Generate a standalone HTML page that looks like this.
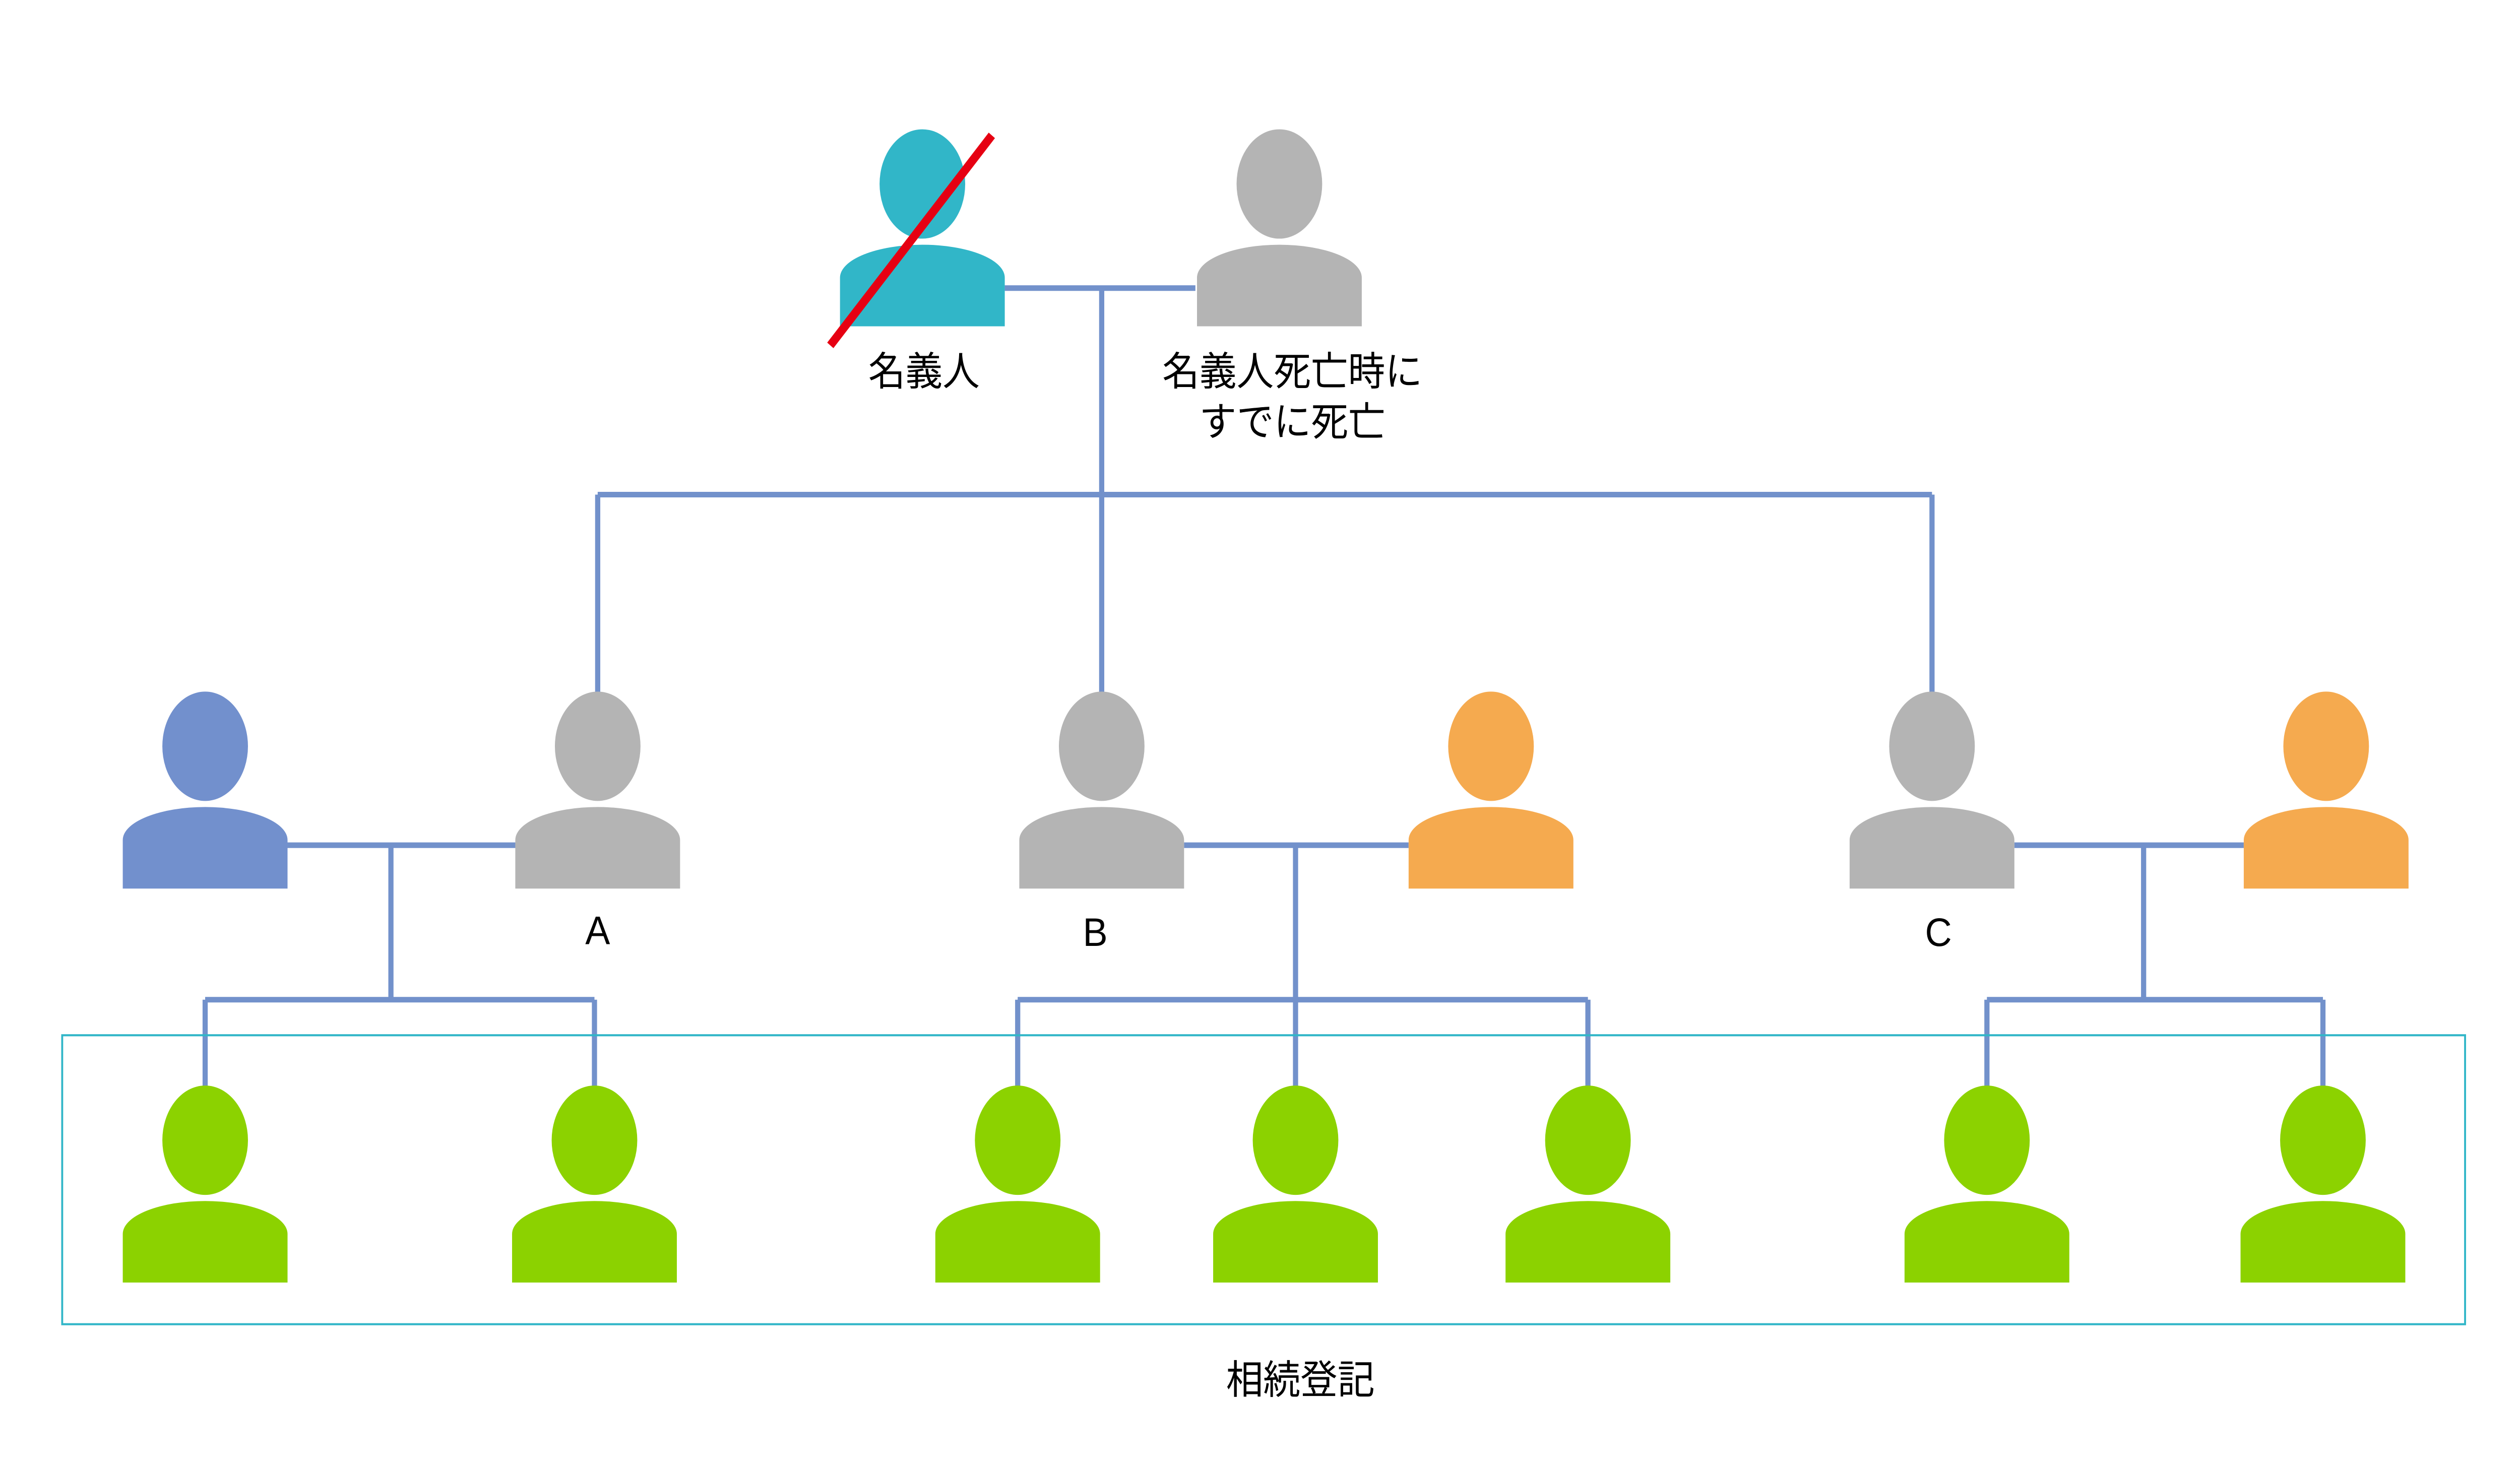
<!DOCTYPE html>
<html><head><meta charset="utf-8"><style>
html,body{margin:0;padding:0;background:#fff;width:100%;height:100%;overflow:hidden;}
svg{display:block;position:fixed;left:0;top:0;width:100vw;height:100vh;}
text{font-family:"Liberation Sans","Noto Sans CJK JP",sans-serif;fill:#000;}
</style></head><body>
<svg viewBox="0 0 1560 847" preserveAspectRatio="none" xmlns="http://www.w3.org/2000/svg">
<defs>
<g id="p"><ellipse cx="0" cy="31" rx="26.5" ry="31.5"/><path d="M-51 113 V85 A51 19 0 0 1 51 85 V113 Z"/></g>
</defs>
<g stroke="#7291cb" stroke-width="3.2" fill="none">
<path d="M622 166 H740 M682 166 V285 M370 285 H1196 M370 285 V402 M1196 285 V402 M682 285 V402"/>
<path d="M178 487 H319 M242 487 V576 M127 576 H368 M127 576 V628 M368 576 V628"/>
<path d="M733 487 H872 M802 487 V628 M630 576 H983 M630 576 V628 M983 576 V628"/>
<path d="M1247 487 H1389 M1327 487 V576 M1230 576 H1438 M1230 576 V628 M1438 576 V628"/>
</g>
<rect x="38.5" y="596.5" width="1487.5" height="166.5" fill="none" stroke="#31b6c8" stroke-width="1.2"/>
<use href="#p" x="571" y="75" fill="#31b6c8"/>
<use href="#p" x="792" y="75" fill="#b4b4b4"/>
<use href="#p" x="127" y="399" fill="#7290cd"/>
<use href="#p" x="370" y="399" fill="#b4b4b4"/>
<use href="#p" x="682" y="399" fill="#b4b4b4"/>
<use href="#p" x="923" y="399" fill="#f5aa4f"/>
<use href="#p" x="1196" y="399" fill="#b4b4b4"/>
<use href="#p" x="1440" y="399" fill="#f5aa4f"/>
<g fill="#8cd200">
<use href="#p" x="127" y="626"/><use href="#p" x="368" y="626"/>
<use href="#p" x="630" y="626"/><use href="#p" x="802" y="626"/><use href="#p" x="983" y="626"/>
<use href="#p" x="1230" y="626"/><use href="#p" x="1438" y="626"/>
</g>
<line x1="514" y1="199" x2="614" y2="78" stroke="#e60012" stroke-width="5"/>
<g font-size="23" text-anchor="middle">
<text x="572" y="222">名義人</text>
<text x="800" y="222">名義人死亡時に</text>
<text x="800" y="251">すでに死亡</text>
<text x="370" y="544">A</text>
<text x="678" y="545">B</text>
<text x="1200" y="545">C</text>
<text x="805" y="803">相続登記</text>
</g>
</svg>
</body></html>
